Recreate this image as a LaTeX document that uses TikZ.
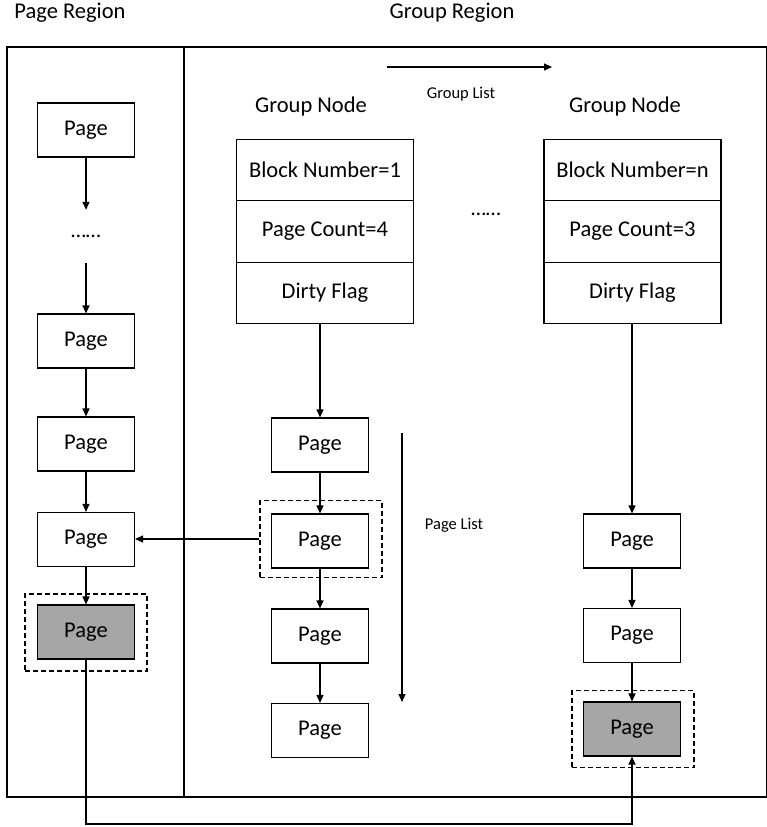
\documentclass[tikz,border=0pt]{standalone}
\usepackage{fontspec}
\setmainfont{Carlito}
\usetikzlibrary{arrows.meta}
\begin{document}
\begin{tikzpicture}[x=1pt,y=-1pt,
  lw/.style={line width=1.1pt},
  arr/.style={lw,-{Triangle[length=8pt,width=7pt]}},
  pagebox/.style={draw,lw,minimum width=97pt,minimum height=54pt,inner sep=0pt,font=\fontsize{22.5}{25}\selectfont},
  greypage/.style={pagebox,fill=black!35},
  dashbox/.style={draw,lw,dashed,dash pattern=on 5pt off 3pt,minimum width=122pt,minimum height=77pt,inner sep=0pt},
  rowbox/.style={draw,lw,minimum width=177pt,minimum height=61.5pt,inner sep=0pt,font=\fontsize{22.5}{25}\selectfont},
  big/.style={font=\fontsize{22.5}{26}\selectfont,inner sep=0pt},
  small/.style={font=\fontsize{16.5}{19}\selectfont,inner sep=0pt},
  dots/.style={font=\fontsize{21.5}{24}\selectfont,inner sep=0pt}
]
\useasboundingbox (0,0) rectangle (767,827);
% frame
\draw[lw] (7,47) rectangle (766.5,797);
\draw[lw] (184,47) -- (184,797);
% titles
\node[big] (tpr) at (70,13) {Page Region};
\node[big] (tgr) at (452,13) {Group Region};
% group list
\coordinate (glA) at (387,67);
\coordinate (glB) at (552,67);
\draw[arr] (glA) -- (glB);
\node[small] (tgl) at (461,94) {Group List};
\node[big] (tgn1) at (311,106) {Group Node};
\node[big] (tgn2) at (625,106) {Group Node};
% group nodes
\node[rowbox] (g1a) at (325,170) {Block Number=1};
\node[rowbox] (g1b) at (325,231.5) {Page Count=4};
\node[rowbox] (g1c) at (325,293) {Dirty Flag};
\node[rowbox] (g2a) at (632.5,170) {Block Number=n};
\node[rowbox] (g2b) at (632.5,231.5) {Page Count=3};
\node[rowbox] (g2c) at (632.5,293) {Dirty Flag};
\node[dots] (gdots) at (486,214) {……};
% left column
\node[pagebox] (l1) at (86,130) {Page};
\node[dots,minimum height=53pt] (ldots) at (86,236.5) {……};
\node[pagebox] (l2) at (86,341) {Page};
\node[pagebox] (l3) at (86,444) {Page};
\node[pagebox] (l4) at (86,539.5) {Page};
\node[dashbox] (ld) at (86,632.5) {};
\node[greypage] (l5) at (86,632) {Page};
\draw[arr] (l1.south -| ldots.north) -- (ldots.north);
\draw[arr] (ldots.south) -- (l2.north);
\draw[arr] (l2) -- (l3);
\draw[arr] (l3) -- (l4);
\draw[arr] (l4) -- (l5);
% middle column
\node[pagebox] (m1) at (320,445) {Page};
\node[dashbox] (md) at (321,539) {};
\node[pagebox] (m2) at (320,541) {Page};
\node[pagebox] (m3) at (320,636) {Page};
\node[pagebox] (m4) at (320,730.5) {Page};
\draw[arr] (g1c.south -| m1.north) -- (m1.north);
\draw[arr] (m1) -- (m2);
\draw[arr] (m2) -- (m3);
\draw[arr] (m3) -- (m4);
\draw[arr] (md.west) -- (md.west -| l4.east);
% page list
\coordinate (plA) at (402,433);
\coordinate (plB) at (402,702);
\draw[arr] (plA) -- (plB);
\node[small] (tpl) at (454,525) {Page List};
% right column
\node[pagebox] (r1) at (632,541) {Page};
\node[pagebox] (r2) at (632,635.5) {Page};
\node[dashbox] (rd) at (633,729) {};
\node[greypage] (r3) at (632,729) {Page};
\draw[arr] (g2c.south -| r1.north) -- (r1.north);
\draw[arr] (r1) -- (r2);
\draw[arr] (r2) -- (r3);
% bottom connector
\coordinate (bot) at (0,824);
\draw[arr] (l5.south) -- (l5.south |- bot) -| (r3.south);
\end{tikzpicture}
\end{document}
